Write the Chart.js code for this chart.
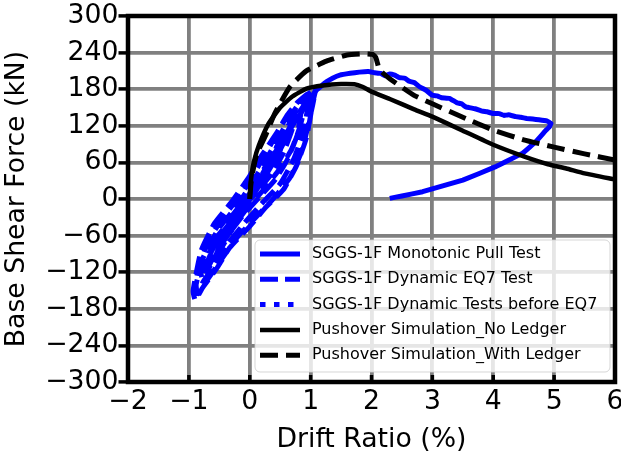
<!DOCTYPE html>
<html>
<head>
<meta charset="utf-8">
<script src="https://cdn.jsdelivr.net/npm/chart.js@4"></script>
<style>
html,body{margin:0;padding:0;background:#fff;}
#wrap{width:621px;height:459px;position:relative;}
</style>
</head>
<body>
<div id="wrap"><canvas id="c" width="621" height="459"></canvas></div>
<script>
// ---- data ----
const seriesLabels = [
  'SGGS-1F Monotonic Pull Test',
  'SGGS-1F Dynamic EQ7 Test',
  'SGGS-1F Dynamic Tests before EQ7',
  'Pushover Simulation_No Ledger',
  'Pushover Simulation_With Ledger'
];
const xTicks = [-2, -1, 0, 1, 2, 3, 4, 5, 6];
const yTicks = [-300, -240, -180, -120, -60, 0, 60, 120, 180, 240, 300];

const monoX = [0, 0.2, 0.45, 0.7, 0.9, 1.09, 1.26, 1.36, 1.48, 1.65, 1.8, 1.95, 2.05, 2.15, 2.22, 2.3, 2.38, 2.46, 2.55, 2.62, 2.7, 2.79, 2.9, 3.0, 3.08, 3.15, 3.28, 3.4, 3.48, 3.55, 3.7, 3.82, 3.9, 4.0, 4.1, 4.18, 4.25, 4.37, 4.45, 4.55, 4.65, 4.75, 4.88, 4.95, 4.92, 4.86, 4.7, 4.48, 4.04, 3.5, 2.84, 2.5, 2.3];
const monoY = [0, 30, 75, 120, 150, 178, 192, 198, 203, 206, 208, 209, 207, 206, 202, 205, 203, 199, 198, 193, 191, 184, 178, 170, 169, 166, 165, 158, 156, 151, 148, 144, 143, 140, 140, 137, 138, 135, 134, 132, 131, 130, 128, 124, 118, 112, 94, 75, 53, 31, 12, 5, 1];

const eq7X = [0, 0.2, 0.45, 0.7, 0.9, 1.05, 1.08, 1.04, 0.93, 0.77, 0.55, 0.27, 0, -0.33, -0.55, -0.77, -0.87, -0.9, -0.93, -0.8, -0.58, -0.3, 0, 0.2, 0.44, 0.6, 0.77, 0.95,
  1.06, 0.98, 0.86, 0.66, 0.4, 0.12, -0.2, -0.45, -0.68, -0.84, -0.9, -0.82, -0.66, -0.4, -0.12, 0.12, 0.35, 0.55, 0.78, 1.0,
  0.98, 0.88, 0.72, 0.5, 0.22, -0.05, -0.35, -0.58, -0.78, -0.86, -0.88, -0.76, -0.52, -0.22, 0.05, 0.27, 0.5, 0.68, 0.88,
  0.92, 0.83, 0.68, 0.46, 0.2, -0.08, -0.3, -0.52, -0.7, -0.72, -0.6, -0.36, -0.1, 0.15, 0.4, 0.62, 0.8, 0.95,
  0.85, 0.78, 0.62, 0.42, 0.15, -0.12, -0.4, -0.62, -0.78, -0.8, -0.68, -0.45, -0.15, 0.1, 0.33, 0.56, 0.75,
  0.7, 0.55, 0.35, 0.08, -0.2, -0.45, -0.65, -0.72, -0.7, -0.55, -0.35, -0.08, 0.18, 0.4, 0.6,
  0.5, 0.3, 0.05, -0.25, -0.5, -0.62, -0.6, -0.4, -0.15, 0.12, 0.35, 0.5, 0.3, 0.1, 0];
const eq7Y = [0, 35, 80, 125, 155, 172, 178, 160, 100, 55, 15, -13, -45, -80, -115, -145, -162, -165, -150, -85, -40, -5, 38, 72, 108, 135, 157, 172,
  170, 130, 80, 35, 2, -28, -62, -97, -130, -155, -145, -105, -65, -25, 10, 50, 90, 125, 158, 175,
  165, 110, 65, 25, -5, -35, -72, -108, -138, -155, -140, -95, -50, -12, 28, 65, 105, 138, 165,
  160, 120, 80, 45, 12, -20, -50, -85, -118, -108, -80, -45, -8, 35, 78, 118, 150, 168,
  145, 105, 65, 32, 2, -28, -65, -100, -130, -120, -90, -55, -18, 20, 58, 100, 135,
  115, 75, 40, 8, -25, -60, -92, -108, -100, -72, -45, -12, 25, 62, 100,
  80, 45, 15, -22, -58, -80, -70, -45, -15, 22, 60, 85, 50, 20, 5];

const preX = [0, 0.15, 0.35, 0.5, 0.58, 0.5, 0.3, 0.1, -0.1, -0.3, -0.45, -0.52, -0.42, -0.2, 0, 0.2, 0.4, 0.47, 0.32, 0.1, -0.1, -0.3, -0.4, -0.26, 0, 0.2, 0.3, 0.15, -0.05, -0.2, -0.1, 0];
const preY = [0, 30, 68, 95, 105, 82, 48, 12, -20, -52, -78, -88, -64, -30, 2, 38, 74, 84, 55, 18, -14, -46, -62, -38, 2, 38, 55, 28, -6, -32, -14, 0];

const noLedgerX = [0, 0.01, 0.03, 0.07, 0.15, 0.3, 0.5, 0.7, 0.93, 1.2, 1.5, 1.72, 1.85, 2.0, 2.3, 2.7, 3.0, 3.5, 4.0, 4.5, 4.9, 5.2, 5.5, 6.0];
const noLedgerY = [0, 20, 40, 62, 88, 122, 150, 168, 181, 186, 188.5, 188, 184, 176, 164, 147, 135, 112, 89, 70, 57, 50, 42, 32];

const ledgerX = [0, 0.02, 0.06, 0.12, 0.25, 0.41, 0.66, 0.93, 1.26, 1.6, 1.9, 2.02, 2.07, 2.1, 2.13, 2.3, 2.7, 3.0, 3.5, 4.0, 4.5, 5.0, 5.5, 6.0];
const ledgerY = [0, 25, 50, 75, 102, 140, 184, 210, 226, 236, 238, 237, 232, 222, 212, 197, 170, 156, 134, 113, 97, 85, 74, 64];

// ---- helpers ----
const pts = (xs, ys) => xs.map((x, i) => ({x: x, y: ys[i]}));
const minus = v => String(v).replace('-', '\u2212');
const FONT = "'DejaVu Sans', sans-serif";
const BIG = 26.7;

const datasets = [
  {label: seriesLabels[0], data: pts(monoX, monoY), borderColor: '#0000ff', borderWidth: 5, order: 5, tension: 0.05},
  {label: seriesLabels[1], data: pts(eq7X, eq7Y), borderColor: '#0000ff', borderWidth: 5, borderDash: [18, 7], order: 4, tension: 0.15},
  {label: seriesLabels[2], data: pts(preX, preY), borderColor: '#0000ff', borderWidth: 5, borderDash: [5.5, 8.5], order: 3, tension: 0.15},
  {label: seriesLabels[3], data: pts(noLedgerX, noLedgerY), borderColor: '#000000', borderWidth: 4.5, order: 2, tension: 0.15},
  {label: seriesLabels[4], data: pts(ledgerX, ledgerY), borderColor: '#000000', borderWidth: 5, borderDash: [18, 8], order: 1, tension: 0.15}
];
datasets.forEach(d => { d.showLine = true; d.pointRadius = 0; d.fill = false; d.borderJoinStyle = 'round'; });

const frameAndLegend = {
  id: 'frameAndLegend',
  afterDatasetsDraw(chart) {
    const {ctx, chartArea: a} = chart;
    const xs = chart.scales.x;
    ctx.save();
    ctx.strokeStyle = '#000';
    ctx.lineWidth = 3.5;
    xTicks.forEach(v => {
      const px = xs.getPixelForValue(v);
      ctx.beginPath();
      ctx.moveTo(px, a.bottom);
      ctx.lineTo(px, a.bottom - 7);
      ctx.stroke();
    });
    ctx.lineWidth = 4.5;
    ctx.lineJoin = 'miter';
    ctx.strokeRect(a.left, a.top, a.right - a.left, a.bottom - a.top);
    ctx.restore();
  },
  afterDraw(chart) {
    const {ctx} = chart;
    ctx.save();
    const bx = 255, by = 240, bw = 355, bh = 132, r = 5;
    ctx.beginPath();
    ctx.moveTo(bx + r, by);
    ctx.arcTo(bx + bw, by, bx + bw, by + bh, r);
    ctx.arcTo(bx + bw, by + bh, bx, by + bh, r);
    ctx.arcTo(bx, by + bh, bx, by, r);
    ctx.arcTo(bx, by, bx + bw, by, r);
    ctx.closePath();
    ctx.fillStyle = 'rgba(255,255,255,0.8)';
    ctx.fill();
    ctx.strokeStyle = 'rgba(204,204,204,0.8)';
    ctx.lineWidth = 1;
    ctx.stroke();
    chart.data.datasets.forEach((d, i) => {
      const y = 254 + i * 25.3;
      ctx.beginPath();
      ctx.strokeStyle = d.borderColor;
      ctx.lineWidth = d.borderWidth;
      ctx.setLineDash(d.borderDash || []);
      ctx.lineCap = 'butt';
      ctx.moveTo(260, y);
      ctx.lineTo(300, y);
      ctx.stroke();
      ctx.setLineDash([]);
      ctx.fillStyle = '#000';
      ctx.font = '16px ' + FONT;
      ctx.textBaseline = 'middle';
      ctx.textAlign = 'left';
      ctx.fillText(d.label, 312, y);
    });
    ctx.restore();
  }
};

new Chart(document.getElementById('c'), {
  type: 'scatter',
  data: {datasets: datasets},
  options: {
    responsive: false,
    animation: false,
    devicePixelRatio: 1,
    layout: {padding: {left: 0, right: 6, top: 16, bottom: 0}},
    plugins: {legend: {display: false}, tooltip: {enabled: false}},
    scales: {
      x: {
        type: 'linear', min: -2, max: 6,
        afterBuildTicks: s => { s.ticks = xTicks.map(v => ({value: v})); },
        afterFit: s => { s.height = 77; s.paddingLeft = 0; s.paddingRight = 0; },
        ticks: {font: {family: FONT, size: BIG}, color: '#000', padding: 3.8, callback: v => minus(v), maxRotation: 0, autoSkip: false},
        grid: {color: '#808080', lineWidth: 3.8, drawTicks: false},
        border: {display: false},
        title: {display: true, text: 'Drift Ratio (%)', font: {family: FONT, size: BIG}, color: '#000', padding: {top: 0, bottom: 3}}
      },
      y: {
        type: 'linear', min: -300, max: 300,
        afterBuildTicks: s => { s.ticks = yTicks.map(v => ({value: v})); },
        afterFit: s => { s.width = 128; s.paddingTop = 0; s.paddingBottom = 0; },
        ticks: {font: {family: FONT, size: BIG}, color: '#000', padding: 0, callback: v => minus(v), autoSkip: false},
        grid: {color: '#808080', lineWidth: 3.8, tickColor: '#000', tickWidth: 3.5, tickLength: 9.5, drawTicks: true},
        border: {display: false},
        title: {display: true, text: 'Base Shear Force (kN)', font: {family: FONT, size: BIG}, color: '#000', padding: {top: 1.5, bottom: 0}}
      }
    }
  },
  plugins: [frameAndLegend]
});
</script>
</body>
</html>
